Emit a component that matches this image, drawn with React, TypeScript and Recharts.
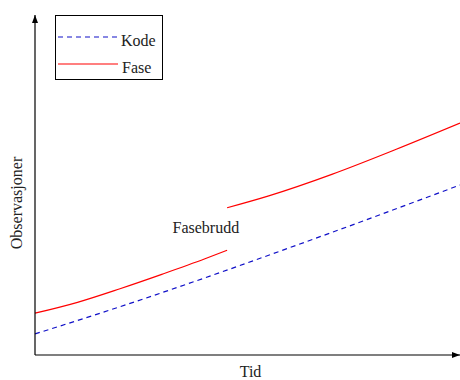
import React from 'react';
import { LineChart, Line, XAxis, YAxis, ReferenceDot, Legend } from 'recharts';

// Kode: steady growth, drawn dashed
const kodeX = [0, 2, 4, 6, 8, 10];
const kodeY = [0.62, 1.42, 2.27, 3.16, 4.07, 5.0];

// Fase: two segments, with a jump (fasebrudd) between them
const fase1X = [0, 1, 2, 3, 4, 4.52];
const fase1Y = [1.23, 1.55, 1.95, 2.38, 2.83, 3.08];
const fase2X = [4.52, 5.5, 7, 8.5, 10];
const fase2Y = [4.33, 4.68, 5.32, 6.05, 6.82];

const seriesNames = ['Kode', 'Fase'];
const breakLabel = 'Fasebrudd';
const breakAt = { x: 4.02, y: 3.76 };

const toPoints = (xs: number[], ys: number[]) => xs.map((x, i) => ({ x, y: ys[i] }));

const kodeData = toPoints(kodeX, kodeY);
const fase1Data = toPoints(fase1X, fase1Y);
const fase2Data = toPoints(fase2X, fase2Y);

const FONT = '"Liberation Serif", serif';
const FONT_SIZE = 16;
const BLUE = '#1010c8';
const RED = '#ff0000';

function LegendBox() {
  const styles = [
    { stroke: BLUE, dash: '5 4' },
    { stroke: RED, dash: undefined },
  ];
  return (
    <div style={{ border: '1px solid #000', width: 106, height: 63, background: '#fff' }}>
      <svg width={106} height={63} style={{ display: 'block' }}>
        {seriesNames.map((name, i) => (
          <g key={name}>
            <line
              x1={2}
              x2={62}
              y1={21 + i * 27}
              y2={21 + i * 27}
              stroke={styles[i].stroke}
              strokeWidth={1.2}
              strokeDasharray={styles[i].dash}
            />
            <text x={65 + i} y={30 + i * 27} fontFamily={FONT} fontSize={FONT_SIZE} fill="#222">
              {name}
            </text>
          </g>
        ))}
      </svg>
    </div>
  );
}

export default function App() {
  return (
    <div style={{ position: 'absolute', left: 0, top: 0, width: 460, height: 380, background: '#fff' }}>
      <svg width={0} height={0} style={{ position: 'absolute' }}>
        <defs>
          <marker
            id="arrow"
            viewBox="0 0 8 6"
            refX={8}
            refY={3}
            markerWidth={8}
            markerHeight={6}
            markerUnits="userSpaceOnUse"
            orient="auto-start-reverse"
          >
            <path d="M0,0 L8,3 L0,6 z" fill="#000" />
          </marker>
        </defs>
      </svg>
      <LineChart width={460} height={380} margin={{ top: 15, right: 0, bottom: 0, left: 0 }}>
        <XAxis
          type="number"
          dataKey="x"
          domain={[0, 10]}
          tick={false}
          tickLine={false}
          height={25}
          axisLine={{ stroke: '#000', strokeWidth: 1.2, markerEnd: 'url(#arrow)' }}
          label={{
            value: 'Tid',
            position: 'insideBottom',
            offset: 3,
            dx: 3,
            style: { fontFamily: FONT, fontSize: FONT_SIZE, fill: '#222' },
          }}
        />
        <YAxis
          type="number"
          domain={[0, 10]}
          tick={false}
          tickLine={false}
          width={35}
          axisLine={{ stroke: '#000', strokeWidth: 1.2, markerStart: 'url(#arrow)' }}
          label={{
            value: 'Observasjoner',
            angle: -90,
            position: 'center',
            dx: -1,
            dy: 18,
            style: { fontFamily: FONT, fontSize: FONT_SIZE, fill: '#222', textAnchor: 'middle' },
          }}
        />
        {/* vertical layout + middle keeps the legend from shrinking the plot area */}
        <Legend
          layout="vertical"
          verticalAlign="middle"
          align="center"
          wrapperStyle={{ position: 'absolute', left: 55, top: 15, width: 'auto', height: 'auto' }}
          content={() => <LegendBox />}
        />
        <Line
          data={kodeData}
          dataKey="y"
          name="Kode"
          type="monotone"
          stroke={BLUE}
          strokeWidth={1.2}
          strokeDasharray="5 4"
          dot={false}
          isAnimationActive={false}
        />
        <Line
          data={fase1Data}
          dataKey="y"
          name="Fase"
          type="monotone"
          stroke={RED}
          strokeWidth={1.2}
          dot={false}
          isAnimationActive={false}
        />
        <Line
          data={fase2Data}
          dataKey="y"
          name="Fase"
          legendType="none"
          type="monotone"
          stroke={RED}
          strokeWidth={1.2}
          dot={false}
          isAnimationActive={false}
        />
        <ReferenceDot
          x={breakAt.x}
          y={breakAt.y}
          r={0}
          fill="none"
          stroke="none"
          label={{
            value: breakLabel,
            position: 'center',
            style: { fontFamily: FONT, fontSize: FONT_SIZE, fill: '#222' },
          }}
        />
      </LineChart>
    </div>
  );
}
